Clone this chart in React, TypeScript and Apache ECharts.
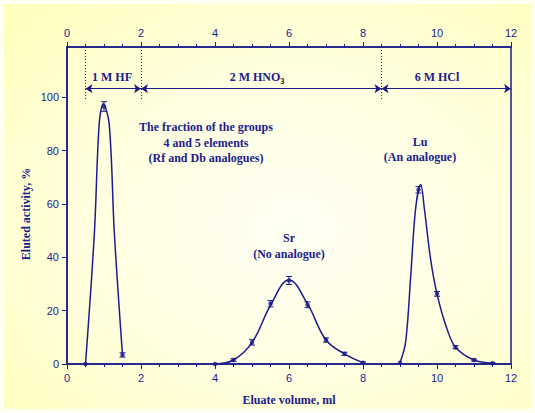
import React, { useEffect, useRef } from "react";
import * as echarts from "echarts";

const NAVY = "#1c1c8a";

// x ticks (ml) and y ticks (%)
const xTicks = [0, 2, 4, 6, 8, 10, 12];
const yTicks = [0, 20, 40, 60, 80, 100];

// measured points: [volume ml, eluted %, error]
const hfPoints = [[0.5, 0, 0], [1.0, 96.5, 1.8], [1.5, 3.4, 0.8]];
const srPoints = [[4, 0, 0], [4.5, 1.5, 0.5], [5, 8.1, 1], [5.5, 22.6, 1.2], [6, 31.3, 1.5], [6.5, 22.2, 1.1], [7, 9, 0.8], [7.5, 3.8, 0.6], [8, 0.5, 0.3]];
const luPoints = [[9, 0.5, 0], [9.5, 65.3, 1.2], [10, 26.3, 0.9], [10.5, 6.3, 0.6], [11, 1.5, 0.4], [11.5, 0.3, 0.2]];

// fitted curves
const hfCurve = [[0.5, 0], [0.74, 49], [0.87, 90], [0.98, 97.5], [1.14, 90], [1.28, 49], [1.5, 3.4]];
const srCurve = [[4, 0], [4.5, 1.5], [5, 8], [5.5, 22], [6, 31.5], [6.5, 22.5], [7, 9], [7.5, 3.8], [8, 0.5]];
const luCurve = [[9, 0.5], [9.15, 8], [9.29, 33], [9.42, 58], [9.56, 67.3], [9.66, 58], [9.83, 39], [10, 26.3], [10.25, 14], [10.5, 6.3], [11, 1.5], [11.5, 0.3]];

// eluent zones [from, to]
const zones = [[0.5, 2], [2, 8.5], [8.5, 12]];
const zoneBoundaries = [0.5, 2, 8.5];

export default function App() {
  const ref = useRef<HTMLDivElement>(null);
  useEffect(() => {
    document.body.style.margin = "0";
    const chart = echarts.init(ref.current!, null, { renderer: "svg" });
    const serif = "'Liberation Serif', 'Times New Roman', serif";
    const sans = "'Liberation Sans', Arial, sans-serif";
    const boldText = (x: number, y: number, text: string, extra: any = {}) => ({
      type: "text",
      x,
      y,
      z: 10,
      style: {
        text,
        fill: NAVY,
        font: `bold 12px ${serif}`,
        textAlign: "center",
        textVerticalAlign: "middle",
        ...extra,
      },
    });
    const errRender = (params: any, api: any) => {
      const x = api.value(0);
      const y = api.value(1);
      const e = api.value(2);
      if (!e) return { type: "group", children: [] };
      const t = api.coord([x, y + e]);
      const b = api.coord([x, y - e]);
      const s = { stroke: NAVY, lineWidth: 1 };
      return {
        type: "group",
        children: [
          { type: "line", shape: { x1: t[0], y1: t[1], x2: b[0], y2: b[1] }, style: s },
          { type: "line", shape: { x1: t[0] - 3, y1: t[1], x2: t[0] + 3, y2: t[1] }, style: s },
          { type: "line", shape: { x1: b[0] - 3, y1: b[1], x2: b[0] + 3, y2: b[1] }, style: s },
        ],
      };
    };
    const curve = (data: number[][], smooth: number) => ({
      type: "line",
      data,
      smooth,
      symbol: "none",
      lineStyle: { color: NAVY, width: 1.5 },
      z: 3,
    });
    const pts = (data: number[][]) => ({
      type: "scatter",
      data: data.map((d) => [d[0], d[1]]),
      symbol: "circle",
      symbolSize: 4.5,
      itemStyle: { color: NAVY },
      z: 5,
    });
    const errs = (data: number[][]) => ({
      type: "custom",
      data,
      renderItem: errRender,
      z: 4,
    });
    const axisCommon = {
      type: "value",
      min: 0,
      max: 12,
      interval: 2,
      axisLine: { lineStyle: { color: NAVY, width: 1.5 } },
      axisTick: { length: 5, lineStyle: { color: NAVY, width: 1 } },
      minorTick: { show: true, splitNumber: 4, length: 3, lineStyle: { color: NAVY, width: 1 } },
      splitLine: { show: false },
      axisLabel: { color: NAVY, fontFamily: sans, fontSize: 11, margin: 8, formatter: (v: number) => (xTicks.includes(v) ? String(v) : "") },
    };
    chart.setOption({
      animation: false,
      backgroundColor: "transparent",
      grid: { left: 67, right: 24, top: 47, bottom: 49, show: true, borderColor: NAVY, borderWidth: 1.5, backgroundColor: "transparent" },
      xAxis: [
        { ...axisCommon, position: "bottom" },
        { ...axisCommon, position: "top", axisLabel: { ...axisCommon.axisLabel, margin: 9 } },
      ],
      yAxis: {
        type: "value",
        min: 0,
        max: 118.8,
        interval: 20,
        axisLine: { lineStyle: { color: NAVY, width: 1.5 } },
        axisTick: { length: 5, lineStyle: { color: NAVY, width: 1 } },
        splitLine: { show: false },
        axisLabel: { color: NAVY, fontFamily: sans, fontSize: 11, margin: 8, showMaxLabel: false, formatter: (v: number) => (yTicks.includes(v) ? String(v) : "") },
      },
      graphic: [
        { type: "rect", z: -10, silent: true, shape: { x: 0, y: 0, width: 535, height: 413 }, style: { fill: "#fffff2" } },
        {
          type: "rect",
          z: -9,
          silent: true,
          shape: { x: 4, y: 4, width: 527, height: 405 },
          style: {
            fill: new echarts.graphic.RadialGradient(0.55, 0.55, 0.75, [
              { offset: 0, color: "#fffff4" },
              { offset: 0.5, color: "#fffee0" },
              { offset: 1, color: "#ffffbe" },
            ]),
          },
        },
        boldText(112, 77, "1 M HF"),
        {
          type: "text",
          x: 257,
          y: 77,
          z: 10,
          style: {
            text: "{a|2 M HNO}{s|3}",
            textAlign: "center",
            textVerticalAlign: "middle",
            rich: {
              a: { fill: NAVY, font: `bold 12px ${serif}`, fontFamily: serif, fontWeight: "bold", fontSize: 12, color: NAVY },
              s: { fontFamily: serif, fontWeight: "bold", fontSize: 8, color: NAVY, padding: [8, 0, 0, 0] },
            },
          },
        },
        boldText(437, 77, "6 M HCl"),
        boldText(206, 127, "The fraction of the groups"),
        boldText(206, 142.5, "4 and 5 elements"),
        boldText(206, 158, "(Rf and Db analogues)"),
        boldText(289, 238, "Sr"),
        boldText(289, 254, "(No analogue)"),
        boldText(420, 142, "Lu"),
        boldText(420, 157, "(An analogue)"),
        boldText(289, 400, "Eluate volume, ml"),
        { ...boldText(0, 0, "Eluted activity, %"), x: 26, y: 214, rotation: Math.PI / 2 },
      ],
      series: [
        {
          type: "line",
          data: [],
          markLine: {
            silent: true,
            symbol: ["none", "none"],
            label: { show: false },
            lineStyle: { color: NAVY, type: [1, 2], width: 1 },
            data: zoneBoundaries.map((x) => [{ coord: [x, 118.8] }, { coord: [x, 99] }]),
          },
        },
        {
          type: "line",
          data: [],
          markLine: {
            silent: true,
            symbol: ["arrow", "arrow"],
            symbolSize: 7,
            label: { show: false },
            lineStyle: { color: NAVY, type: "solid", width: 1.2 },
            data: zones.map((z) => [{ coord: [z[0], 103.2] }, { coord: [z[1], 103.2] }]),
          },
        },
        curve(hfCurve, 0.35),
        curve(srCurve, 0.4),
        curve(luCurve, 0.35),
        errs(hfPoints),
        errs(srPoints),
        errs(luPoints),
        pts(hfPoints),
        pts(srPoints),
        pts(luPoints),
      ],
    });
    return () => chart.dispose();
  }, []);
  return <div ref={ref} style={{ width: 535, height: 413 }} />;
}
